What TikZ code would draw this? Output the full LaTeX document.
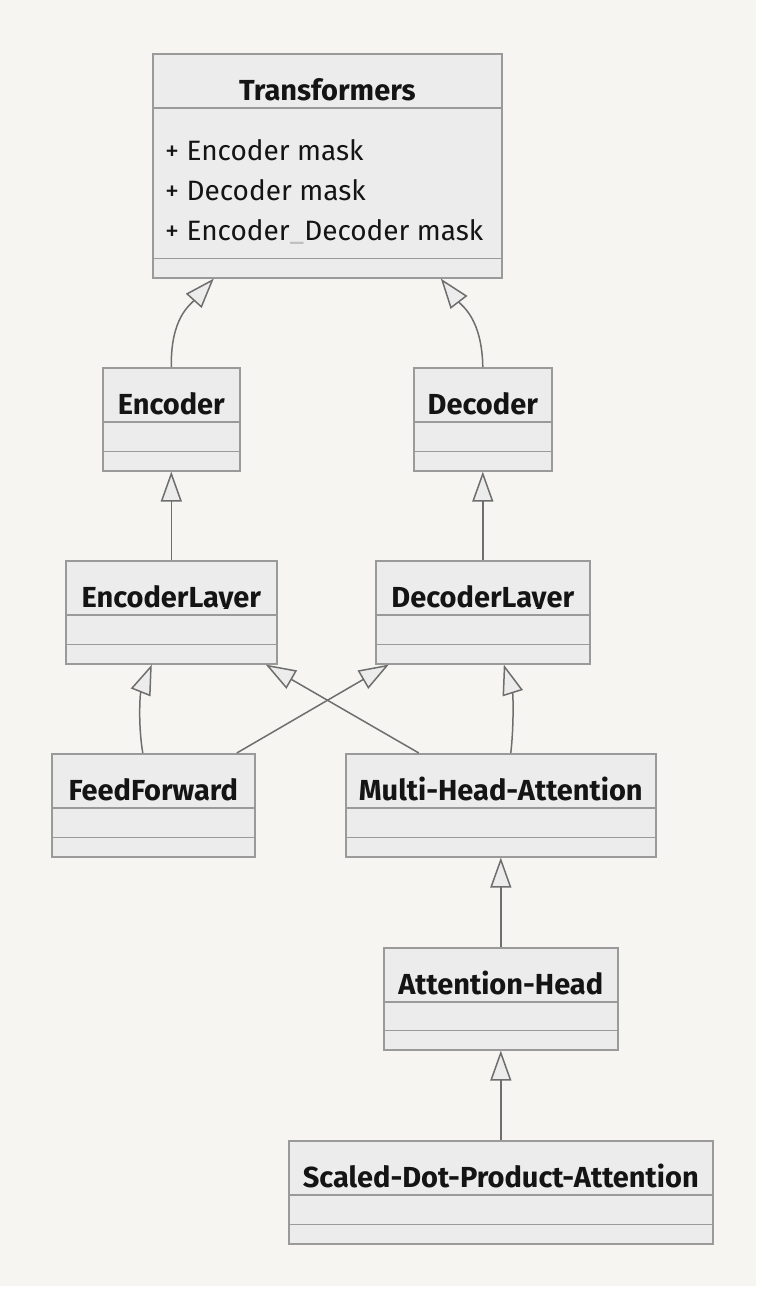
\documentclass[tikz,border=0pt]{standalone}
\usepackage{fontspec}
\setmainfont{Fira Sans}
\usepackage{tikz}
\usetikzlibrary{arrows.meta, positioning}
\definecolor{bgcol}{HTML}{F6F5F1}
\definecolor{boxfill}{HTML}{ECECEC}
\definecolor{boxline}{HTML}{9A9A9A}
\definecolor{linkcol}{HTML}{6E6E6E}
\tikzstyle{classbox} = [draw=boxline, fill=boxfill, line width=1.6pt, anchor=north west, inner sep=0pt]
\tikzstyle{divider} = [draw=boxline, line width=1.6pt]
\tikzstyle{title} = [font=\fontsize{29}{34}\bfseries\selectfont, text=black!92, anchor=base, inner sep=0pt]
\tikzstyle{attr} = [font=\fontsize{28}{34}\selectfont, text=black!92, anchor=base west, inner sep=0pt]
\tikzstyle{inherit} = [draw=linkcol, line width=1.5pt, -{Triangle[length=30pt, width=21pt, fill=boxfill]}]

% class box: name, width, height, top left, title
\newcommand{\umlclass}[5]{%
  \node[classbox, minimum width=#2, minimum height=#3] (#1) at (#4) {};
  \draw[divider] ([yshift=-55pt]#1.north west) -- ([yshift=-55pt]#1.north east);
  \draw[divider] ([yshift=20pt]#1.south west) -- ([yshift=20pt]#1.south east);
  \begin{scope}
    \clip ([yshift=-48pt]#1.north west) rectangle (#1.north east);
    \node[title] (#1-name) at ([yshift=-47pt]#1.north) {#5};
  \end{scope}
}

\begin{document}
\begin{tikzpicture}[x=1pt, y=-1pt]
    \useasboundingbox (0,0) rectangle (756,1290);
    \fill[bgcol] (0,0) rectangle (756,1286);
    \fill[white] (0,1286) rectangle (756,1290);

    \umlclass{trans}{349pt}{224pt}{152,53}{Transformers}
    \umlclass{enc}{137pt}{103pt}{102,367}{Encoder}
    \umlclass{dec}{138pt}{103pt}{413,367}{Decoder}
    \umlclass{enclayer}{211pt}{103pt}{65,560}{EncoderLayer}
    \umlclass{declayer}{214pt}{103pt}{375,560}{DecoderLayer}
    \umlclass{ff}{203pt}{103pt}{51,753}{FeedForward}
    \umlclass{mha}{310pt}{103pt}{345,753}{Multi-Head-Attention}
    \umlclass{head}{234pt}{102pt}{383,947}{Attention-Head}
    \umlclass{sdpa}{424pt}{103pt}{288,1140}{Scaled-Dot-Product-Attention}

    % attributes
    \node[attr] (a1) at (165,160) {+ Encoder mask};
    \node[attr] (a2) at (165,200) {+ Decoder mask};
    \node[attr] (a3) at (165,240) {+ Encoder{\color{black!25}\_}Decoder mask};

    % inheritance
    \draw[inherit] (enc.north) .. controls (170.5,318) and (190,305) .. ([xshift=-113.5pt]trans.south);
    \draw[inherit] (dec.north) .. controls (482,318) and (461,305) .. ([xshift=113.5pt]trans.south);
    \draw[inherit] (enclayer.north) -- (enc.south);
    \draw[inherit] (declayer.north) -- (dec.south);
    \draw[inherit] ([xshift=-10.5pt]ff.north) .. controls (138,725) and (140,694) .. ([xshift=-19.5pt]enclayer.south);
    \draw[inherit] ([xshift=83.5pt]ff.north) -- ([xshift=-94pt]declayer.south);
    \draw[inherit] ([xshift=-82pt]mha.north) -- ([xshift=94.5pt]enclayer.south);
    \draw[inherit] ([xshift=10pt]mha.north) .. controls (514,725) and (513,694) .. ([xshift=21pt]declayer.south);
    \draw[inherit] (head.north) -- (mha.south);
    \draw[inherit] (sdpa.north) -- (head.south);
\end{tikzpicture}
\end{document}
